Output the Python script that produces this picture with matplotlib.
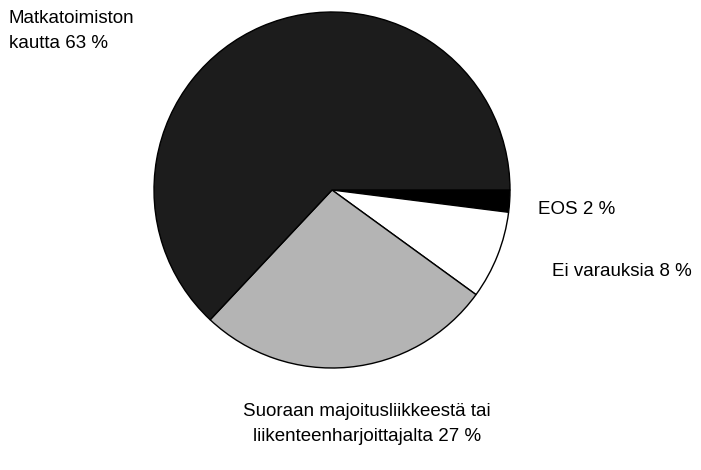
import matplotlib
matplotlib.use("Agg")
import matplotlib.pyplot as plt

plt.rcParams['font.family'] = ['Liberation Sans', 'DejaVu Sans']

# slices in clockwise order starting at 3 o'clock
names = ["EOS", "Ei varauksia", "Suoraan majoitusliikkeestä tai\nliikenteenharjoittajalta",
         "Matkatoimiston\nkautta"]
shares = [2, 8, 27, 63]
colors = ["#000000", "#ffffff", "#b4b4b4", "#1c1c1c"]

W, H = 701, 470
fig = plt.figure(figsize=(W / 100, H / 100), dpi=100)
fig.patch.set_facecolor("white")

cx, cy, r = 332, 190, 178
ax = fig.add_axes([(cx - r) / W, (H - cy - r) / H, 2 * r / W, 2 * r / H])
wedges, _ = ax.pie(shares, colors=colors, startangle=0, counterclock=False,
                   wedgeprops=dict(edgecolor="black", linewidth=1.0))
ax.set_xlim(-1, 1)
ax.set_ylim(-1, 1)
ax.set_aspect("equal")
ax.axis("off")

labels = [f"{n} {v} %" for n, v in zip(names, shares)]
fs = 13.5
fig.text(538 / W, 1 - 210 / H, labels[0], fontsize=fs, ha="left", va="center")
fig.text(552 / W, 1 - 272 / H, labels[1], fontsize=fs, ha="left", va="center")
fig.text(367 / W, 1 - 424 / H, labels[2], fontsize=fs, ha="center", va="center",
         linespacing=1.65)
fig.text(9 / W, 1 - 31 / H, labels[3], fontsize=fs, ha="left", va="center",
         linespacing=1.65)

fig.savefig("out.png", dpi=100)
